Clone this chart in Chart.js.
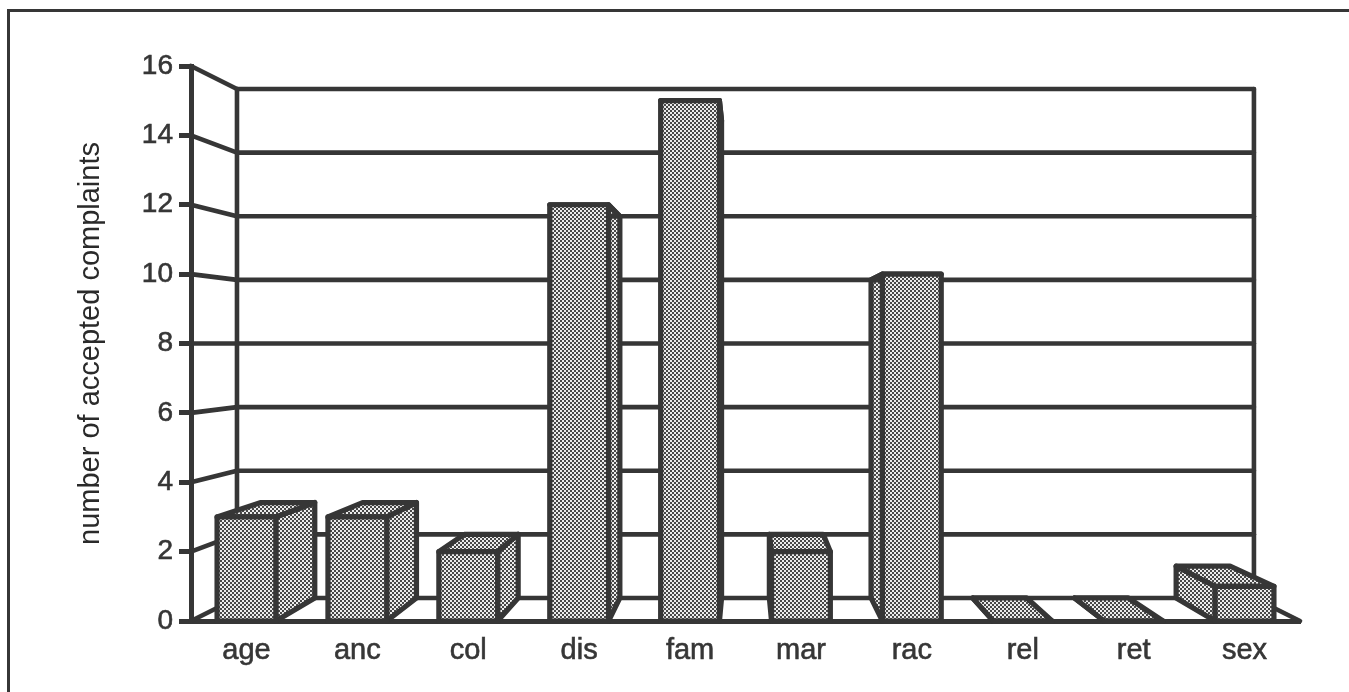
<!DOCTYPE html>
<html>
<head>
<meta charset="utf-8">
<style>
  html, body { margin: 0; padding: 0; background: #fff; overflow: hidden; }
  #wrap { position: absolute; left: 0; top: 0; width: 1349px; height: 692px; }
</style>
<script src="https://cdn.jsdelivr.net/npm/chart.js@4/dist/chart.umd.min.js"></script>
</head>
<body>
<div id="wrap"><canvas id="chart" width="1349" height="692"></canvas></div>
<script>
const categories = ['age', 'anc', 'col', 'dis', 'fam', 'mar', 'rac', 'rel', 'ret', 'sex'];
const complaints = [3, 3, 2, 12, 15, 2, 10, 0, 0, 1];
const yTicks = [0, 2, 4, 6, 8, 10, 12, 14, 16];
const yAxisTitle = 'number of accepted complaints';

const INK = '#363636';
const LINE = 4.6;
const BAR_LINE = 5.2;
const FONT = 'Liberation Sans, Arial, sans-serif';

// Perspective of the pseudo-3D box: every front point recedes toward a vanishing point.
const VANISH_X = 745;
const VANISH_VALUE = 8;
const DEPTH = 0.083;

// Two-pixel checker that stands in for the halftone fill of the bars.
function halftone(ctx) {
  const c = document.createElement('canvas');
  c.width = c.height = 4;
  const g = c.getContext('2d');
  g.fillStyle = '#ececec';
  g.fillRect(0, 0, 4, 4);
  g.fillStyle = '#484848';
  g.fillRect(0, 0, 2, 2);
  g.fillRect(2, 2, 2, 2);
  return ctx.createPattern(c, 'repeat');
}

const canvas = document.getElementById('chart');
const ctx2d = canvas.getContext('2d');
const fill = halftone(ctx2d);

function toBack(chart, x, y) {
  const vy = chart.scales.y.getPixelForValue(VANISH_VALUE);
  return [x + DEPTH * (VANISH_X - x), y + DEPTH * (vy - y)];
}

function polygon(ctx, pts, paint) {
  ctx.beginPath();
  pts.forEach((p, i) => (i ? ctx.lineTo(p[0], p[1]) : ctx.moveTo(p[0], p[1])));
  ctx.closePath();
  if (paint) { ctx.fillStyle = fill; ctx.fill(); }
  ctx.stroke();
}

function segment(ctx, a, b) {
  ctx.beginPath();
  ctx.moveTo(a[0], a[1]);
  ctx.lineTo(b[0], b[1]);
  ctx.stroke();
}

function pen(ctx, width) {
  ctx.strokeStyle = INK;
  ctx.lineWidth = width;
  ctx.lineJoin = 'round';
  ctx.lineCap = 'butt';
}

const box3d = {
  id: 'box3d',
  // Outer frame rule of the figure.
  beforeDraw(chart) {
    const ctx = chart.ctx;
    ctx.save();
    pen(ctx, 3);
    segment(ctx, [8.5, 692], [8.5, 9]);
    segment(ctx, [7, 10.5], [1349, 10.5]);
    ctx.restore();
  },
  // Side walls, receding gridlines, floor, and the hidden faces of each bar.
  beforeDatasetsDraw(chart) {
    const { ctx, scales: { y: ys }, chartArea: area } = chart;
    ctx.save();
    pen(ctx, LINE);
    ctx.lineCap = 'round';
    const [backL, backTop] = toBack(chart, area.left, ys.getPixelForValue(yTicks[yTicks.length - 1]));
    const [backR, backBottom] = toBack(chart, area.right, ys.getPixelForValue(0));
    yTicks.forEach(v => {
      const y = ys.getPixelForValue(v);
      const [bx, by] = toBack(chart, area.left, y);
      segment(ctx, [area.left, y], [bx, by]);
      segment(ctx, [bx, by], [backR, by]);
    });
    segment(ctx, [backL, backTop], [backL, backBottom]);
    segment(ctx, [backR, backTop], [backR, backBottom]);
    segment(ctx, [area.right, ys.getPixelForValue(0)], [backR, backBottom]);

    pen(ctx, BAR_LINE);
    chart.getDatasetMeta(0).data.forEach(bar => {
      const l = bar.x - bar.width / 2;
      const r = bar.x + bar.width / 2;
      const t = bar.y;
      const b = ys.getPixelForValue(0);
      const tl = toBack(chart, l, t), tr = toBack(chart, r, t);
      const bl = toBack(chart, l, b), br = toBack(chart, r, b);
      if (r < tr[0]) polygon(ctx, [[r, t], tr, br, [r, b]], true);
      if (l > tl[0]) polygon(ctx, [[l, t], tl, bl, [l, b]], true);
      polygon(ctx, [[l, t], tl, tr, [r, t]], true);
    });
    ctx.restore();
  },
  // Outline of each front face, centred on its value.
  afterDatasetsDraw(chart) {
    const { ctx, scales: { y: ys } } = chart;
    ctx.save();
    pen(ctx, BAR_LINE);
    chart.getDatasetMeta(0).data.forEach(bar => {
      const l = bar.x - bar.width / 2;
      const r = bar.x + bar.width / 2;
      const b = ys.getPixelForValue(0);
      polygon(ctx, [[l, bar.y], [r, bar.y], [r, b], [l, b]], false);
    });
    ctx.restore();
  }
};

new Chart(canvas, {
  type: 'bar',
  data: {
    labels: categories,
    datasets: [{
      data: complaints,
      backgroundColor: fill,
      borderWidth: 0,
      categoryPercentage: 1,
      barPercentage: 0.53
    }]
  },
  plugins: [box3d],
  options: {
    responsive: false,
    animation: false,
    events: [],
    layout: { padding: { left: 72, top: 66, right: 49, bottom: 0 } },
    plugins: { legend: { display: false }, tooltip: { enabled: false }, title: { display: false } },
    scales: {
      x: {
        grid: { display: false, drawTicks: false },
        border: { display: true, color: INK, width: 5 },
        ticks: {
          color: INK, font: { family: FONT, size: 29 }, padding: 13,
          maxRotation: 0, autoSkip: false, textStrokeColor: INK, textStrokeWidth: 0.6
        },
        afterFit(s) { s.height = 71; }
      },
      y: {
        min: 0,
        max: 16,
        afterBuildTicks(s) { s.ticks = yTicks.map(v => ({ value: v })); },
        grid: { drawOnChartArea: false, drawTicks: true, tickLength: 12, tickColor: INK, tickWidth: 5, color: INK },
        border: { display: true, color: INK, width: 5 },
        ticks: {
          color: INK, font: { family: FONT, size: 28 }, padding: 6,
          textStrokeColor: INK, textStrokeWidth: 0.6
        },
        title: {
          display: true,
          text: yAxisTitle,
          color: '#2a2a2a',
          font: { family: FONT, size: 29 },
          padding: { top: 2, bottom: 2 }
        },
        afterFit(s) { s.width = 119; }
      }
    }
  }
});
</script>
</body>
</html>
